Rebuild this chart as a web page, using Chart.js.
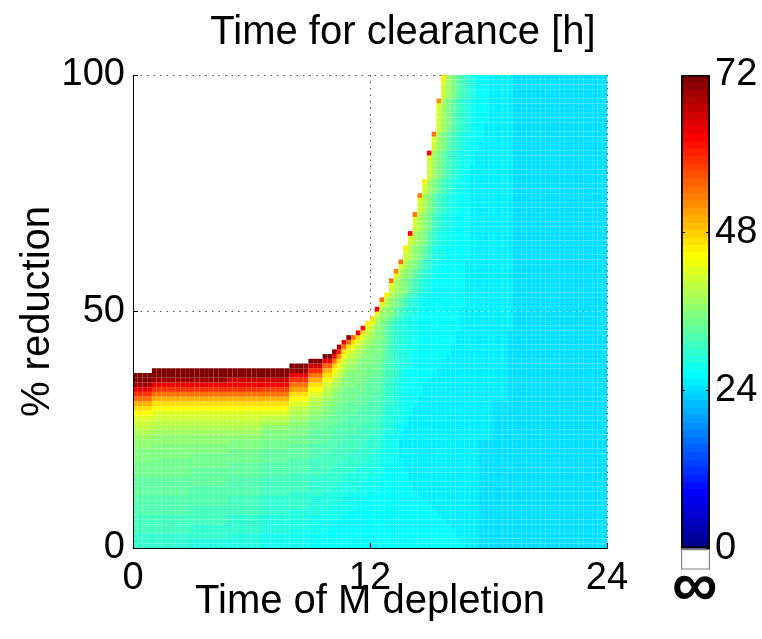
<!DOCTYPE html>
<html>
<head>
<meta charset="utf-8">
<title>Time for clearance [h]</title>
<script src="https://cdn.jsdelivr.net/npm/chart.js@4.4.1/dist/chart.umd.min.js"></script>
<style>
  html, body { margin: 0; padding: 0; background: #fff; overflow: hidden; }
  body { width: 762px; height: 639px; position: relative; }
  #heat { position: absolute; left: 0; top: 0; }
  #scale { position: absolute; left: 640px; top: 0; }
</style>
</head>
<body>
<canvas id="heat" width="806" height="639"></canvas>
<canvas id="scale" width="122" height="639"></canvas>
<script>
const xTicks = [0, 12, 24]
const yTicks = [0, 50, 100]
const colorTicks = [0, 24, 48, 72]
const colorMax = 72
const xStep = 0.24   // hours per column
const yStep = 1      // % reduction per row

// [number of columns, clearance time in h from 0 % upward as "hours*rows"]
// rows above the last run never clear (infinite time, left white)
const columnRuns = [
  [4, '29.8*3 31*4 32*4 33.2*4 34.3*3 35.5*3 36.6*2 37.7 38.8 40 41.1 42.2 44.5 46.7 50 55 59 63 69 72 75'],
  [8, '29.8*3 31*4 32*4 33.2*4 34.3*4 35.5*3 36.6*2 37.7 38.8 40 41.1 42.2 44.5 46.7 50 55 59 63 69 72 75'],
  [8, '28.7*2 29.8*3 31*4 32*4 33.2*4 34.3*3 35.5*2 36.6*2 37.7 38.8 40 41.1 42.2 44.5 46.7 50 55 59 63 69 72 75'],
  [7, '28.7*3 29.8*4 31*4 32*4 33.2*3 34.3*3 35.5*2 36.6 37.7 38.8 40 41.1 42.2 44.5 46.7 50 55 59 63 66 72 75'],
  [6, '27.6*3 28.7*4 29.8*4 31*4 32*3 33.2*3 34.3*2 35.5*2 36.6 38.8 40 42.2 44.5 47 50 54 58 62.5 66 71 75'],
  [4, '27.6*4 28.7*4 29.8*4 31*4 32*3 33.2*3 34.3*2 35.5*2 36.6 37.7 38.8 40 42.2 44.5 47 51 55 59 64 70 75'],
  [3, '26.5*3 27.6*4 28.7*4 29.8*4 31*4 32*3 33.2*3 34.3*2 35.5 36.6 37.7 38.8 40 42.2 44.5 46.7 50 55 60 66 72'],
  [2, '26.5*4 27.6*4 28.7*4 29.8*4 31*4 32*3 33.2*3 34.3*2 35.5*2 36.6 37.7 38.8 40 41.1 43.3 46.7 50 56 63 72'],
  [1, '26.5*5 27.6*4 28.7*4 29.8*4 31*4 32*4 33.2*3 34.3*2 35.5*2 36.6 37.7 38.8 40 42.2 44.5 48 54 62 70'],
  [1, '26.5*6 27.6*4 28.7*4 29.8*4 31*4 32*4 33.2*3 34.3*2 35.5*2 36.6 37.7 38.8 40 41.1 43.3 46.7 52 60 68'],
  [1, '26.5*7 27.6*4 28.7*4 29.8*4 31*4 32*4 33.2*3 34.3*3 35.5*2 36.6 37.7 38.8 40 41.1 43.3 47 55 63'],
  [1, '26.5*8 27.6*4 28.7*4 29.8*4 31*4 32*4 33.2*3 34.3*3 35.5*3 36.6 37.7 38.8 40 42.2 46.7 55 70'],
  [1, '26.5*8 27.6*4 28.7*4 29.8*4 31*4 32*4 33.2*3 34.3*3 35.5*3 36.6 37.7 38.8 40 41.1 43.3 47 55'],
  [1, '26.5*9 27.6*4 28.7*4 29.8*4 31*4 32*4 33.2*3 34.3*3 35.5*4 36.6 37.7 38.8 40 42.2 47 62'],
  [1, '26.5*10 27.6*4 28.7*4 29.8*4 31*4 32*4 33.2*3 34.3*3 35.5*4 36.6 37.7 38.8 40 42.2 46.7 61'],
  [1, '26.5*11 27.6*4 28.7*4 29.8*4 31*4 32*4 33.2*4 34.3*3 35.5*4 36.6 37.7 38.8 40 42.2 46'],
  [1, '26.5*12 27.6*4 28.7*4 29.8*4 31*4 32*4 33.2*4 34.3*3 35.5*4 36.6 37.7 38.8 40 42.2 47'],
  [1, '26.5*13 27.6*4 28.7*4 29.8*4 31*4 32*4 33.2*4 34.3*4 35.5*5 36.6 37.7 38.8 42.2 62'],
  [1, '26.5*15 27.6*5 28.7*4 29.8*4 31*4 32*4 33.2*4 34.3*4 35.5*4 36.6 37.7 38.8 42.2 55'],
  [1, '26.5*18 27.6*7 28.7*5 29.8*5 31*4 32*4 33.2*4 34.3 35.5 36.6*2 38.8 40 46'],
  [1, '26.5*17 27.6*7 28.7*6 29.8*6 31*12 33.2 35.5*2 36.6*2 38.8 41.1 42.2 54'],
  [1, '26.5*19 27.6*9 28.7*8 29.8*12 31 33.2*2 35.5*2 36.6 38.8*3 42.2 53'],
  [1, '26.5*19 25.3*4 26.5*3 27.6*11 28.7*11 29.8 31*2 33.2*2 35.5 36.6*3 38.8*2 42.2 54'],
  [1, '26.5*16 25.3*10 26.5*2 27.6*10 28.7*11 29.8*2 31*2 33.2 35.5*3 36.6*2 38.8*2 41.1 42.2 45'],
  [1, '26.5*14 25.3*14 26.5*10 27.6*11 28.7*2 29.8*2 31 33.2*3 35.5*2 36.6*2 38.8*3 41.1 42.2 62'],
  [1, '26.5*12 25.3*18 26.5*12 27.6*9 28.7*2 29.8 31*3 33.2*2 35.5*2 36.6*3 38.8*3 41.1*2 42.2 55'],
  [1, '26.5*11 25.3*21 26.5*17 27.6*4 28.7 29.8*3 31*2 33.2*2 35.5*3 36.6*3 38.8*4 41.1*2 42.2 53'],
  [1, '26.5*10 25.3*25 26.5*17 27.6*2 28.7*3 29.8*2 31*2 33.2*3 35.5*3 36.6*4 38.8*4 41.1 42.2 46'],
  [1, '26.5*9 25.3*27 26.5*17 27.6*4 28.7*2 29.8*2 31*3 32*3 34.3*4 35.5*4 37.7*3 41.1*4 42.2 62'],
  [1, '26.5*8 25.3*29 26.5*20 27.6*4 28.7*3 29.8*3 31*4 33.2*4 35.5*3 37.7*6 41.1*2 42.2 54'],
  [1, '26.5*7 25.3*31 26.5*21 27.6*5 28.7*3 29.8*4 31*4 33.2*3 35.5*6 37.7*4 41.1*5 42.2 52'],
  [1, '26.5*6 25.3*34 26.5*21 27.6*6 28.7*4 29.8*4 31*3 33.2*6 35.5*4 37.7*7 41.1*3 42.2 45'],
  [1, '26.5*5 25.3*36 26.5*23 27.6*7 28.7*4 29.8*3 31*6 33.2*4 35.5*7 37.7*5'],
  [1, '26.5*4 25.3*39 26.5*24 27.6*8 28.7*3 29.8*6 31*4 33.2*7 35.5*5'],
  [1, '26.5*2 25.3*44 26.5*25 27.6*7 28.7*6 29.8*4 31*7 33.2*5'],
  [1, '26.5 25.3*50 26.5*24 27.6*9 28.7*4 29.8*7 31*5'],
  [1, '25.3*61 26.5*19 27.6*8 28.7*7 29.8*5'],
  [1, '25.3*81 26.5*5 27.6*9 28.7*5'],
  [1, '25.3*84 26.5*11 27.6*5'],
  [1, '24*23 25.3*63 26.5*14'],
  [1, '24*23 25.3*67 26.5*10'],
  [1, '24*23 25.3*77'],
  [3, '24*31 25.3*69'],
  [1, '24*46 25.3*54'],
  [20, '24*100']
]

// MATLAB jet(64) over [0, colorMax]
function jetColor(v) {
    let k = Math.floor(v / colorMax * 64) + 1
    k = Math.max(1, Math.min(64, k))
    const u = j => (j < 1 || j > 47) ? 0 : j <= 16 ? j / 16 : j <= 31 ? 1 : (48 - j) / 16
    const c = [u(k - 24), u(k - 8), u(k + 8)].map(t => Math.round(t * 255))
    return `rgb(${c[0]},${c[1]},${c[2]})`
}

const cells = []
let col = 0
columnRuns.forEach(([n, spec]) => {
    const runs = spec.trim().split(/\s+/).map(t => {
        const [v, k] = t.split('*')
        return [Number(v), k ? Number(k) : 1]
    })
    for (let i = 0; i < n; i++, col++) {
        let row = 0
        runs.forEach(([v, k]) => {
            for (let j = 0; j < k; j++, row++) {
                cells.push({ x: (col + 0.5) * xStep, y: (row + 0.5) * yStep, v: v })
            }
        })
    }
})

const font = 'Liberation Sans, Arial, Helvetica, sans-serif'
const fixTicks = list => s => { s.ticks = list.map(v => ({ value: v })) }
const cellRadius = c => {
    const s = c.chart.scales.x
    return (s.getPixelForValue(xStep) - s.getPixelForValue(0)) / Math.SQRT2
}

new Chart(document.getElementById('heat'), {
    type: 'scatter',
    data: {
        datasets: [{
            data: cells,
            xAxisID: 'x',
            yAxisID: 'y',
            pointStyle: 'rect',
            pointRadius: cellRadius,
            pointHoverRadius: cellRadius,
            pointBorderWidth: 0,
            pointBackgroundColor: c => jetColor(c.raw.v)
        }]
    },
    options: {
        responsive: false,
        animation: false,
        events: [],
        layout: { padding: 0 },
        plugins: {
            legend: { display: false },
            tooltip: { enabled: false },
            title: {
                display: true,
                text: 'Time for clearance [h]',
                color: '#000',
                font: { family: font, size: 40, weight: 'normal' },
                padding: { top: 9, bottom: 18 }
            }
        },
        scales: {
            x: {
                type: 'linear', position: 'bottom', min: 0, max: 24, weight: 1,
                afterBuildTicks: fixTicks(xTicks),
                afterFit: s => { s.height = 91 },
                ticks: { color: '#000', font: { family: font, size: 38 }, padding: 8 },
                grid: { color: '#555', lineWidth: 1, drawTicks: false },
                border: { display: true, color: '#000', width: 1, dash: [1.5, 5], z: 1 },
                title: {
                    display: true, text: 'Time of M depletion', color: '#000',
                    font: { family: font, size: 40 }, padding: { top: 0, bottom: 13 }
                }
            },
            y: {
                type: 'linear', position: 'left', min: 0, max: 100, weight: 1,
                afterBuildTicks: fixTicks(yTicks),
                afterFit: s => { s.width = 133 },
                ticks: { color: '#000', font: { family: font, size: 38 }, padding: 8 },
                grid: { color: '#555', lineWidth: 1, drawTicks: false },
                border: { display: true, color: '#000', width: 1, dash: [1.5, 5], z: 1 },
                title: {
                    display: true, text: '% reduction', color: '#000',
                    font: { family: font, size: 40 }, padding: { top: 14, bottom: 0 }
                }
            },
            // inward tick marks, drawn over the cells
            xt: {
                type: 'linear', axis: 'x', position: 'bottom', min: 0, max: 24, weight: -5,
                afterBuildTicks: fixTicks(xTicks),
                afterFit: s => { s.height = 0 },
                ticks: { display: false },
                grid: { drawOnChartArea: false, drawTicks: true, tickLength: -5, tickColor: '#000', tickWidth: 1, z: 1 },
                border: { display: false }
            },
            yt: {
                type: 'linear', axis: 'y', position: 'left', min: 0, max: 100, weight: -5,
                afterBuildTicks: fixTicks(yTicks),
                afterFit: s => { s.width = 0 },
                ticks: { display: false },
                grid: { drawOnChartArea: false, drawTicks: true, tickLength: -5, tickColor: '#000', tickWidth: 1, z: 1 },
                border: { display: false }
            },
            // room kept on the right for the colour bar
            yr: {
                type: 'linear', axis: 'y', position: 'right',
                afterFit: s => { s.width = 199 },
                ticks: { display: false },
                grid: { display: false, drawTicks: false },
                border: { display: false }
            }
        }
    }
})

// colour bar
const barSets = []
for (let k = 0; k < 64; k++) {
    const lo = k * colorMax / 64
    const hi = (k + 1) * colorMax / 64
    barSets.push({
        data: [[lo, hi]], backgroundColor: jetColor((lo + hi) / 2), borderWidth: 0,
        grouped: false, barPercentage: 1, categoryPercentage: 1, order: 1
    })
}
barSets.unshift({
    data: [[-3.2, 0]], backgroundColor: '#fff', borderColor: '#808080', borderWidth: 1.5,
    borderSkipped: false, grouped: false, barPercentage: 1, categoryPercentage: 1, order: 0
})
barSets.unshift({
    data: [[0, colorMax]], backgroundColor: 'rgba(0,0,0,0)', borderColor: '#000', borderWidth: 1.5,
    borderSkipped: false, grouped: false, barPercentage: 1, categoryPercentage: 1, order: 0
})

new Chart(document.getElementById('scale'), {
    type: 'bar',
    data: { labels: [''], datasets: barSets },
    options: {
        responsive: false,
        animation: false,
        events: [],
        layout: { padding: { top: 75, bottom: 0, left: 32, right: 0 } },
        plugins: {
            legend: { display: false },
            tooltip: { enabled: false },
            title: {
                display: true, position: 'bottom', align: 'start', text: '∞', color: '#000',
                font: { family: font, size: 64, weight: 'bold', lineHeight: 0.6 },
                padding: { top: 0, bottom: 31 }
            }
        },
        scales: {
            x: {
                type: 'category',
                afterFit: s => { s.height = 0 },
                ticks: { display: false },
                grid: { display: false, drawTicks: false },
                border: { display: false }
            },
            y: {
                type: 'linear', position: 'right', min: -3.2, max: colorMax,
                afterBuildTicks: fixTicks(colorTicks),
                afterFit: s => { s.width = 52 },
                ticks: { color: '#000', font: { family: font, size: 38 }, padding: 9 },
                grid: { display: true, drawOnChartArea: false, drawTicks: true, tickLength: -4, tickColor: '#000', tickWidth: 1, z: 1 },
                border: { display: false }
            },
            yl: {
                type: 'linear', axis: 'y', position: 'left', min: -3.2, max: colorMax,
                afterBuildTicks: fixTicks([24, 48]),
                afterFit: s => { s.width = 9 },
                ticks: { display: false },
                grid: { display: true, drawOnChartArea: false, drawTicks: true, tickLength: -4, tickColor: '#000', tickWidth: 1, z: 1 },
                border: { display: false }
            }
        }
    }
})
</script>
</body>
</html>
